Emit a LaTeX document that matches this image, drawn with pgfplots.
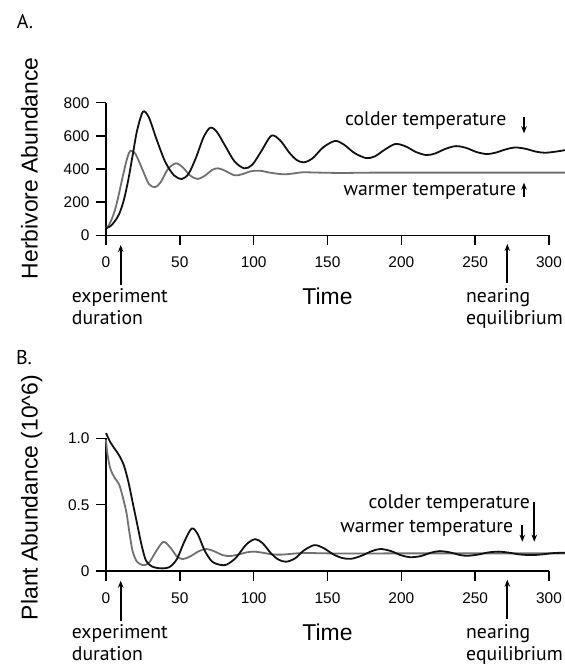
\documentclass[border=0pt]{standalone}
\usepackage{fontspec}
\setmainfont{Liberation Sans}
\newfontfamily\annfont{PT Sans}
\usepackage{pgfplots}
\pgfplotsset{compat=1.18}
\usetikzlibrary{arrows.meta}

\definecolor{warmgray}{HTML}{707070}
\definecolor{coldblack}{HTML}{111111}

\pgfplotsset{
  panel/.style={
    scale only axis, width=443bp, height=132.6bp,
    xmin=0, xmax=300, axis lines=left,
    axis line style={-, line width=1.5bp},
    tick align=outside, major tick length=10bp,
    tick style={line width=1.5bp, black},
    xtick={0,50,...,300}, clip=false,
    ticklabel style={font=\fontsize{15.5}{15.5}\selectfont},
    /pgf/number format/assume math mode=true,
    xticklabel style={yshift=-8bp}, yticklabel style={xshift=-3bp},
    anchor=south west,
  },
  cold/.style={coldblack, line width=1.8bp, smooth},
  warm/.style={warmgray, line width=1.8bp, smooth},
}

\tikzset{
  ann/.style={font=\annfont\fontsize{19.8}{19.8}\selectfont, inner sep=0pt},
  lab/.style={font=\fontsize{23}{23}\selectfont, inner sep=0pt},
  arr/.style={line width=1.7bp, -{Stealth[length=7bp,width=5.5bp]}},
}

\begin{document}
\begin{tikzpicture}[x=1bp, y=1bp]
\useasboundingbox (0,0) rectangle (565,667);

% ---------- A: herbivores ----------
\begin{axis}[panel, at={(106bp,431.7bp)}, ymin=0, ymax=800, ytick={0,200,...,800}]
\addplot[warm] coordinates {
(0,42) (2,62) (4,100) (6,150) (8,220) (10,300) (12,380) (14.5,470) (16.6,510)
(20,490) (25,390) (29,310) (33.2,290) (37,320) (42,400) (47.3,434) (52,410)
(57,360) (62,340) (67,360) (72,395) (75.8,404) (80,392) (87,362) (92,368)
(98,386) (104,390) (111,378) (120,368) (127,373) (133,380) (145,378)
(160,376) (180,378) (220,378) (260,378) (311,378)};
\addplot[cold] coordinates {
(0,42) (3,55) (6,85) (9,130) (12,210) (15,330) (18,480) (21,630) (25,745)
(29,712) (34,585) (40,445) (46,362) (51.4,340) (56,372) (61,470) (66,590)
(70.5,649) (75,625) (81,535) (87,446) (93.6,404) (99,425) (105,505)
(112,601) (118,572) (124,500) (129,455) (134,440) (140,465) (147,530)
(155,569) (161,548) (168,498) (176,466) (182,476) (189,518) (196,551)
(203,536) (210,502) (217,484) (223,494) (230,522) (237,538) (244,527)
(251,502) (258,490) (264,499) (271,519) (277,530) (284,522) (291,505)
(297,498) (304,504) (311,514)};
\end{axis}

% ---------- B: plants ----------
\begin{axis}[panel, at={(106bp,96bp)}, ymin=0, ymax=1, ytick={0,0.5,1},
  yticklabels={0,0.5,1.0}]
\addplot[warm] coordinates {
(0,0.99) (1,0.88) (3,0.77) (6,0.70) (9,0.65) (12,0.53) (14,0.43) (16,0.28)
(18,0.15) (21,0.07) (25,0.045) (29,0.06) (34,0.15) (39,0.22) (44,0.17)
(48,0.11) (52,0.09) (57,0.11) (63,0.15) (68,0.166) (73,0.15) (79,0.12)
(84,0.113) (90,0.125) (95,0.14) (100,0.146) (106,0.138) (113,0.125)
(120,0.124) (128,0.132) (135,0.136) (145,0.134) (160,0.132) (200,0.133)
(250,0.133) (311,0.133)};
\addplot[cold] coordinates {
(0,1.04) (3,0.97) (6,0.92) (9,0.87) (12,0.80) (15,0.68) (18,0.52) (21,0.36)
(24,0.20) (27,0.08) (31,0.035) (37,0.02) (43,0.03) (48,0.09) (53,0.22)
(58,0.32) (62,0.28) (67,0.15) (72,0.07) (78,0.045) (82,0.05) (88,0.10)
(95,0.20) (101,0.24) (106,0.21) (112,0.13) (117,0.085) (122,0.07)
(128,0.095) (134,0.155) (141,0.195) (147,0.175) (154,0.125) (160,0.098)
(166,0.092) (173,0.115) (180,0.15) (186,0.166) (193,0.15) (200,0.118)
(206,0.104) (213,0.112) (220,0.138) (226,0.15) (233,0.14) (240,0.12)
(245,0.115) (252,0.124) (259,0.14) (266,0.146) (273,0.138) (280,0.125)
(288,0.12) (295,0.125) (303,0.135) (311,0.138)};
\end{axis}

% ---------- labels and annotations ----------
\node[ann, font=\annfont\fontsize{20}{20}\selectfont] at (25,645) {A.};
\node[ann, font=\annfont\fontsize{20}{20}\selectfont] at (24,309) {B.};

\node[lab, rotate=90, anchor=base] at (37.5,498.7) {Herbivore Abundance};
\node[lab, rotate=90, anchor=base] at (37.5,169.5) {Plant Abundance (10\^{}6)};
\node[lab, anchor=base] at (327.5,362) {Time};
\node[lab, anchor=base] at (327.5,26.3) {Time};

\foreach \dy in {0,335.7} {
  \node[ann, anchor=base west] at (71.7,364.3-\dy) {experiment};
  \node[ann, anchor=base west] at (71.7,342-\dy) {duration};
  \node[ann, anchor=base west] at (466,364.3-\dy) {nearing};
  \node[ann, anchor=base west] at (466,342-\dy) {equilibrium};
  \draw[arr] (120.7,382-\dy) -- (120.7,422-\dy);
  \draw[arr] (507.3,383.7-\dy) -- (507.3,423-\dy);
}

\node[ann, anchor=base west] at (345,541) {colder temperature};
\node[ann, anchor=base west] at (343.3,471) {warmer temperature};
\draw[arr] (524,550.3) -- (524,533.7);
\draw[arr] (524,470.3) -- (524,484.3);

\node[ann, anchor=base east] at (530,158.7) {colder temperature};
\node[ann, anchor=base east] at (513.3,134.7) {warmer temperature};
\draw[arr] (534.3,165.3) -- (534.3,125.3);
\draw[arr] (522.3,142) -- (522.3,125.3);
\end{tikzpicture}
\end{document}
